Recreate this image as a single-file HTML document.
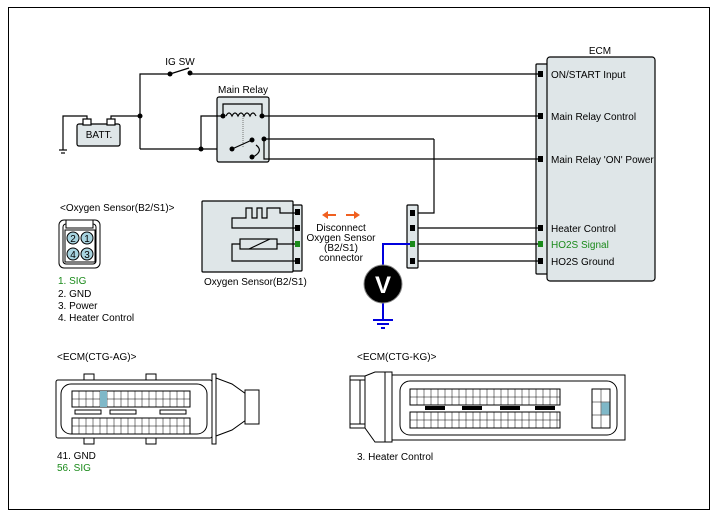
<!DOCTYPE html>
<html><head><style>
body{margin:0;background:#fff}
svg{display:block;font-family:"Liberation Sans",sans-serif}
</style></head><body>
<svg width="717" height="518" viewBox="0 0 717 518" xmlns="http://www.w3.org/2000/svg">
<defs>
<pattern id="g" width="8" height="8" patternUnits="userSpaceOnUse"><rect width="8" height="8" fill="#dfe6e8"/></pattern>
</defs>
<rect x="8.5" y="7.5" width="701" height="502" fill="#fff" stroke="#000"/>
<g stroke="#000" stroke-width="1.2" fill="none">
<!-- ECM -->
<rect x="536" y="64" width="12" height="210" fill="#dfe6e8" rx="1"/>
<rect x="547" y="57" width="108" height="224" fill="#dfe6e8" rx="3"/>
<!-- IG SW line -->
<polyline points="140,149 140,74 170,74"/>
<line x1="170" y1="74" x2="189" y2="68"/>
<line x1="190" y1="74" x2="541" y2="74"/>
<!-- battery -->
<polyline points="111,125 111,116 140,116"/>
<polyline points="87,125 87,116 63,116 63,150"/>
<line x1="59" y1="150" x2="67" y2="150"/><line x1="61" y1="153" x2="65" y2="153"/>
<rect x="77" y="124" width="43" height="22" fill="#dfe6e8" rx="2"/>
<rect x="83" y="119" width="8" height="6" fill="#fff"/><rect x="107" y="119" width="8" height="6" fill="#fff"/>
<line x1="140" y1="149" x2="232" y2="149"/>
<!-- relay -->
<rect x="217" y="97" width="52" height="65" fill="#dfe6e8" rx="2"/>
<polyline points="201,149 201,116 223,116"/>
<polyline points="223,116 223,104 262,104 262,116"/>
<path d="M226,116 q3,-6 6,0 q3,-6 6,0 q3,-6 6,0 q3,-6 6,0 q3,-6 6,0" />
<line x1="262" y1="116" x2="541" y2="116"/>
<line x1="243" y1="116" x2="243" y2="147" stroke-dasharray="1,1" stroke="#888"/>
<line x1="232" y1="149" x2="252" y2="140"/>
<line x1="264" y1="139" x2="434" y2="139"/>
<polyline points="434,139 434,213 413,213"/>
<polyline points="264,139 264,159 541,159"/>
<path d="M256,145 q8,6 -3,12"/>
<!-- connector lines -->
<line x1="413" y1="228" x2="541" y2="228"/>
<line x1="413" y1="244" x2="541" y2="244"/>
<line x1="413" y1="261" x2="541" y2="261"/>
<rect x="407" y="205" width="11" height="63" fill="#dfe6e8" rx="1"/>
<!-- oxygen sensor -->
<rect x="293" y="205" width="9" height="66" fill="#dfe6e8" rx="1"/>
<rect x="202" y="201" width="91" height="71" fill="#dfe6e8" rx="1"/>
<polyline points="297,213 280,213 280,208 267,208 267,218 262,218 262,208 257,208 257,218 252,218 252,208 246,208 246,218 232,218 232,228 297,228"/>
<polyline points="297,244 277,244"/><rect x="240" y="239" width="37" height="10"/>
<polyline points="240,244 232,244 232,261 297,261"/>
<line x1="249" y1="249" x2="270" y2="239"/>
</g>
<!-- dots -->
<g fill="#000">
<circle cx="170" cy="74" r="2.5"/><circle cx="190" cy="73" r="2.5"/>
<circle cx="140" cy="116" r="2.5"/><circle cx="201" cy="149" r="2.5"/>
<circle cx="223" cy="116" r="2.5"/><circle cx="262" cy="116" r="2.5"/>
<circle cx="232" cy="149" r="2.5"/><circle cx="252" cy="140" r="2.5"/>
<circle cx="264" cy="139" r="2.5"/><circle cx="252" cy="157" r="2.5"/>
<rect x="538" y="71" width="5" height="6"/><rect x="538" y="113" width="5" height="6"/>
<rect x="538" y="156" width="5" height="6"/><rect x="538" y="225" width="5" height="6"/>
<rect x="538" y="241" width="5" height="6" fill="#1a8a1a"/><rect x="538" y="258" width="5" height="6"/>
<rect x="410" y="210" width="5" height="6"/><rect x="410" y="225" width="5" height="6"/>
<rect x="410" y="241" width="5" height="6" fill="#1a8a1a"/><rect x="410" y="258" width="5" height="6"/>
<rect x="295" y="209" width="5" height="6"/><rect x="295" y="225" width="5" height="6"/>
<rect x="295" y="241" width="5" height="6" fill="#1a8a1a"/><rect x="295" y="258" width="5" height="6"/>
</g>
<!-- voltmeter -->
<polyline points="383,266 383,244 410,244" stroke="#0000dd" stroke-width="2" fill="none"/>
<polyline points="383,302 383,320" stroke="#0000dd" stroke-width="2" fill="none"/>
<g stroke="#0000dd" stroke-width="2"><line x1="373" y1="320" x2="393" y2="320"/><line x1="377" y1="324" x2="389" y2="324"/><line x1="381" y1="328" x2="385" y2="328"/></g>
<circle cx="383" cy="284" r="19" fill="#000" stroke="#888"/>
<text x="383" y="293" font-size="24" font-weight="bold" fill="#fff" text-anchor="middle">V</text>
<!-- orange arrows -->
<g stroke="#f06020" stroke-width="2" fill="#f06020">
<line x1="326" y1="215" x2="336" y2="215"/><polygon points="322,215 328,211 328,219" stroke="none"/>
<line x1="346" y1="215" x2="356" y2="215"/><polygon points="360,215 354,211 354,219" stroke="none"/>
</g>
<!-- small connector -->
<g stroke="#000" fill="none" stroke-width="1">
<rect x="59" y="220" width="41" height="48" rx="5" fill="#fff"/>
<rect x="63" y="224" width="33" height="40" rx="3"/>
<rect x="66" y="220" width="27" height="8" fill="#fff"/>
<rect x="65" y="230" width="30" height="32" fill="#fff"/>
<g fill="#a8d4e0"><circle cx="73" cy="238" r="6"/><circle cx="87" cy="238" r="6"/><circle cx="73" cy="254" r="6"/><circle cx="87" cy="254" r="6"/></g>
</g>
<g font-size="10" text-anchor="middle"><text x="73" y="242">2</text><text x="87" y="242">1</text><text x="73" y="258">4</text><text x="87" y="258">3</text></g>
<!-- text -->
<g font-size="10" fill="#000">
<text x="180" y="65" text-anchor="middle">IG SW</text>
<text x="243" y="93" text-anchor="middle">Main Relay</text>
<text x="99" y="138" text-anchor="middle">BATT.</text>
<text x="600" y="54" text-anchor="middle">ECM</text>
<text x="551" y="78">ON/START Input</text>
<text x="551" y="120">Main Relay Control</text>
<text x="551" y="163">Main Relay 'ON' Power</text>
<text x="551" y="232">Heater Control</text>
<text x="551" y="248" fill="#1a8a1a">HO2S  Signal</text>
<text x="551" y="265">HO2S  Ground</text>
<text x="341" y="231" text-anchor="middle">Disconnect</text>
<text x="341" y="241" text-anchor="middle">Oxygen Sensor</text>
<text x="341" y="251" text-anchor="middle">(B2/S1)</text>
<text x="341" y="261" text-anchor="middle">connector</text>
<text x="204" y="285">Oxygen Sensor(B2/S1)</text>
<text x="60" y="211">&lt;Oxygen Sensor(B2/S1)&gt;</text>
<text x="58" y="284" fill="#1a8a1a">1. SIG</text>
<text x="58" y="297">2. GND</text>
<text x="58" y="309">3. Power</text>
<text x="58" y="321">4. Heater Control</text>
<text x="57" y="360">&lt;ECM(CTG-AG)&gt;</text>
<text x="57" y="459">41. GND</text>
<text x="57" y="471" fill="#1a8a1a">56. SIG</text>
<text x="357" y="360">&lt;ECM(CTG-KG)&gt;</text>
<text x="357" y="460">3. Heater Control</text>
</g>
<!-- CTG-AG connector -->
<g stroke="#000" fill="#fff" stroke-width="1">
<rect x="84" y="374" width="10" height="8"/><rect x="146" y="374" width="10" height="8"/>
<rect x="84" y="436" width="10" height="8"/><rect x="146" y="436" width="10" height="8"/>
<rect x="56" y="380" width="156" height="58" rx="2"/>
<rect x="61" y="384" width="146" height="50" rx="10"/>
<rect x="212" y="374" width="4" height="70"/>
<polygon points="216,378 232,384 246,394 246,420 232,430 216,436" fill="#fff"/>
<rect x="245" y="390" width="14" height="34"/>
<rect x="72" y="391" width="118" height="16" fill="#fff"/>
<rect x="72" y="418" width="118" height="16" fill="#fff"/>
<rect x="75" y="410" width="26" height="4"/><rect x="110" y="410" width="26" height="4"/><rect x="160" y="410" width="26" height="4"/>
</g>
<g stroke="#000" stroke-width="0.5">
<path d="M72,399H190M72,426H190" />
<path d="M79,391V407M86,391V407M93,391V407M100,391V407M107,391V407M114,391V407M121,391V407M128,391V407M135,391V407M142,391V407M149,391V407M156,391V407M163,391V407M170,391V407M177,391V407M184,391V407"/>
<path d="M79,418V434M86,418V434M93,418V434M100,418V434M107,418V434M114,418V434M121,418V434M128,418V434M135,418V434M142,418V434M149,418V434M156,418V434M163,418V434M170,418V434M177,418V434M184,418V434"/>
</g>
<rect x="100" y="391" width="7" height="8" fill="#7fb8c8"/><rect x="100" y="399" width="7" height="8" fill="#7fb8c8"/>
<!-- CTG-KG connector -->
<g stroke="#000" fill="#fff" stroke-width="1">
<rect x="350" y="376" width="15" height="4"/><rect x="350" y="424" width="15" height="4"/>
<rect x="350" y="380" width="10" height="44"/>
<polygon points="365,376 375,372 385,372 385,442 375,442 365,428"/>
<rect x="385" y="372" width="7" height="70"/>
<rect x="392" y="375" width="233" height="65"/>
<rect x="400" y="381" width="217" height="54" rx="10"/>
<rect x="410" y="389" width="150" height="16"/>
<rect x="410" y="412" width="150" height="16"/>
<rect x="592" y="389" width="18" height="39"/>
</g>
<g stroke="#000" stroke-width="0.5">
<path d="M410,397H560M410,420H560M592,402H610M592,415H610M601,389V428"/>
<path d="M417,389V405M424,389V405M431,389V405M438,389V405M445,389V405M452,389V405M459,389V405M466,389V405M473,389V405M480,389V405M487,389V405M494,389V405M501,389V405M508,389V405M515,389V405M522,389V405M529,389V405M536,389V405M543,389V405M550,389V405M557,389V405"/>
<path d="M417,412V428M424,412V428M431,412V428M438,412V428M445,412V428M452,412V428M459,412V428M466,412V428M473,412V428M480,412V428M487,412V428M494,412V428M501,412V428M508,412V428M515,412V428M522,412V428M529,412V428M536,412V428M543,412V428M550,412V428M557,412V428"/>
</g>
<g fill="#000"><rect x="425" y="406" width="20" height="4"/><rect x="462" y="406" width="20" height="4"/><rect x="500" y="406" width="20" height="4"/><rect x="535" y="406" width="20" height="4"/></g>
<rect x="601.5" y="402.5" width="8" height="12" fill="#7fb8c8"/>
</svg>
</body></html>
